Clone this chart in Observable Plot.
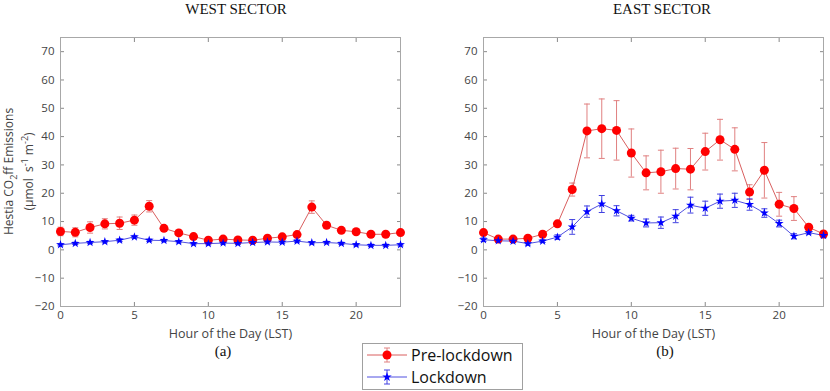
<!DOCTYPE html>
<html><head><meta charset="utf-8">
<script src="https://cdn.jsdelivr.net/npm/d3@7"></script>
<script src="https://cdn.jsdelivr.net/npm/@observablehq/plot@0.6"></script>
<style>
body{margin:0;background:#fff;}
#wrap{position:relative;width:830px;height:391px;overflow:hidden;font-family:"Open Sans",sans-serif;background:#fff}
.serif{position:absolute;font-family:"Liberation Serif",serif;font-size:15px;color:#111;transform:translate(-50%,-50%);white-space:nowrap;z-index:2}
.panel{position:absolute;top:0}
#legend{position:absolute;left:362px;top:343px;z-index:3}
</style>
</head><body>
<div id="wrap">
  <div class="panel" id="west" style="left:0px"></div>
  <div class="panel" id="east" style="left:420px"></div>
  <div class="serif" style="left:236px;top:9px">WEST SECTOR</div>
  <div class="serif" style="left:662px;top:9px">EAST SECTOR</div>
  <div class="serif" style="left:223px;top:351px">(a)</div>
  <div class="serif" style="left:665px;top:351px">(b)</div>
  <div id="legend"></div>
</div>
<script>
const hours = d3.range(0, 24);
const xTicks = [0, 5, 10, 15, 20];
const yTicks = [-20, -10, 0, 10, 20, 30, 40, 50, 60, 70];
const seriesNames = ["Pre-lockdown", "Lockdown"];

const westPre    = [6.5, 6.2, 7.9, 9.2, 9.4, 10.5, 15.4, 7.6, 6.0, 4.7, 3.4, 3.8, 3.5, 3.4, 4.1, 4.6, 5.4, 15.1, 8.7, 6.9, 6.4, 5.5, 5.5, 6.1];
const westPreErr = [1.5, 1.6, 2.0, 1.8, 2.2, 1.8, 2.0, 0.8, 0.8, 0.8, 0.6, 0.6, 0.6, 0.6, 0.6, 0.6, 0.8, 2.2, 1.0, 0.8, 0.6, 0.6, 0.6, 0.6];
const westLock    = [1.8, 2.3, 2.6, 2.9, 3.4, 4.6, 3.4, 3.3, 2.9, 2.2, 2.2, 2.4, 2.3, 2.6, 2.8, 2.7, 3.1, 2.5, 2.6, 2.3, 1.8, 1.6, 1.6, 1.8];
const westLockErr = [0.4, 0.4, 0.4, 0.4, 0.5, 0.5, 0.4, 0.4, 0.4, 0.4, 0.4, 0.4, 0.4, 0.4, 0.4, 0.4, 0.4, 0.4, 0.4, 0.4, 0.4, 0.4, 0.4, 0.4];

const eastPre    = [6.1, 3.8, 3.8, 4.1, 5.5, 9.2, 21.3, 42.0, 42.8, 42.2, 34.2, 27.2, 27.6, 28.7, 28.5, 34.7, 38.9, 35.5, 20.4, 28.1, 16.1, 14.6, 8.0, 5.6];
const eastPreErr = [0.6, 0.5, 0.5, 0.6, 0.7, 0.8, 2.3, 9.5, 10.5, 10.5, 8.5, 6.0, 7.6, 7.2, 7.3, 6.5, 7.2, 7.6, 2.6, 9.8, 4.2, 4.2, 0.8, 0.5];
const eastLock    = [3.6, 3.2, 3.1, 2.2, 3.1, 4.5, 8.1, 13.5, 16.2, 13.8, 11.2, 9.5, 9.6, 11.9, 15.8, 14.7, 17.2, 17.5, 16.0, 13.0, 9.3, 4.8, 6.1, 5.1];
const eastLockErr = [0.6, 0.5, 0.5, 0.5, 0.5, 0.8, 2.6, 2.0, 3.0, 1.8, 1.0, 1.4, 2.0, 2.3, 2.8, 2.5, 2.5, 2.5, 2.0, 1.5, 1.2, 0.9, 0.5, 0.8];

const RED = "#ff0000", RED_LINE = "#d95f5f", RED_ERR = "#e08080";
const BLUE = "#0000ff", BLUE_LINE = "#5050e0", BLUE_ERR = "#4040e0";

const capSymbol = {
  draw(ctx, size) {
    const w = Math.sqrt(size / Math.PI);
    ctx.moveTo(-w, 0); ctx.lineTo(w, 0);
  }
};

function panel(pre, preErr, lock, lockErr, width, ml, mr) {
  const rows = hours.map((h, i) => ({h, pre: pre[i], pe: preErr[i], lock: lock[i], le: lockErr[i]}));
  const tickStroke = "#8a8a8a";
  return Plot.plot({
    width, height: 356,
    marginTop: 37, marginBottom: 50, marginLeft: ml, marginRight: mr,
    style: {fontFamily: "Open Sans, sans-serif", fontSize: "11.5px", color: "#444", background: "transparent"},
    x: {domain: [0, 23]},
    y: {domain: [-20, 75]},
    marks: [
      Plot.axisX({anchor: "bottom", ticks: xTicks, tickSize: -4, tickPadding: 8, stroke: tickStroke, label: null}),
      Plot.axisX({anchor: "bottom", ticks: [], tickSize: 0,
        label: "Hour of the Day (LST)", labelAnchor: "center", labelArrow: "none", labelOffset: 31, fontSize: 12.5}),
      Plot.axisX({anchor: "top", ticks: xTicks, tickSize: -4, tickFormat: () => "", label: null, stroke: tickStroke}),
      Plot.axisY({anchor: "left", ticks: yTicks, tickSize: -4, tickPadding: 10, label: null, stroke: tickStroke}),
      Plot.axisY({anchor: "right", ticks: yTicks, tickSize: -4, tickFormat: () => "", label: null, stroke: tickStroke}),
      Plot.frame({stroke: "#a8a8a8"}),
      // pre-lockdown error bars
      Plot.ruleX(rows, {x: "h", y1: d => d.pre - d.pe, y2: d => d.pre + d.pe, stroke: RED_ERR, strokeWidth: 1}),
      Plot.dot(rows, {x: "h", y: d => d.pre + d.pe, symbol: capSymbol, r: 3, stroke: RED_ERR, fill: "none", strokeWidth: 1}),
      Plot.dot(rows, {x: "h", y: d => d.pre - d.pe, symbol: capSymbol, r: 3, stroke: RED_ERR, fill: "none", strokeWidth: 1}),
      Plot.line(rows, {x: "h", y: "pre", stroke: RED_LINE, strokeWidth: 1}),
      // lockdown error bars
      Plot.ruleX(rows, {x: "h", y1: d => d.lock - d.le, y2: d => d.lock + d.le, stroke: BLUE_ERR, strokeWidth: 1}),
      Plot.dot(rows, {x: "h", y: d => d.lock + d.le, symbol: capSymbol, r: 3, stroke: BLUE_ERR, fill: "none", strokeWidth: 1}),
      Plot.dot(rows, {x: "h", y: d => d.lock - d.le, symbol: capSymbol, r: 3, stroke: BLUE_ERR, fill: "none", strokeWidth: 1}),
      Plot.line(rows, {x: "h", y: "lock", stroke: BLUE_LINE, strokeWidth: 1}),
      Plot.dot(rows, {x: "h", y: "pre", r: 4.5, fill: RED, stroke: "none"}),
      Plot.dot(rows, {x: "h", y: "lock", r: 2.8, symbol: "star", fill: BLUE, stroke: "none"})
    ]
  });
}

const west = panel(westPre, westPreErr, westLock, westLockErr, 420, 60, 20);
const east = panel(eastPre, eastPreErr, eastLock, eastLockErr, 410, 63, 7);
document.getElementById("west").append(west);
document.getElementById("east").append(east);

// y-axis label on the west panel
const sv = d3.select(west);
const cy = (37 + 306) / 2;
const t1 = sv.append("text").attr("transform", `translate(13,${cy}) rotate(-90)`)
  .attr("text-anchor", "middle").attr("font-family", "Open Sans, sans-serif").attr("font-size", 12).attr("fill", "#444");
t1.append("tspan").text("Hestia CO");
t1.append("tspan").attr("font-size", 9).attr("dy", 4).text("2");
t1.append("tspan").attr("dy", -4).text("ff Emissions");
const t2 = sv.append("text").attr("transform", `translate(33,${cy}) rotate(-90)`)
  .attr("text-anchor", "middle").attr("font-family", "Open Sans, sans-serif").attr("font-size", 12).attr("fill", "#444");
t2.append("tspan").text("(\u03bcmol  s");
t2.append("tspan").attr("font-size", 9).attr("dy", -5).text("-1");
t2.append("tspan").attr("dy", 5).text(" m");
t2.append("tspan").attr("font-size", 9).attr("dy", -5).text("-2");
t2.append("tspan").attr("dy", 5).text(")");

// legend
const lg = d3.select("#legend").append("svg").attr("width", 161).attr("height", 47);
lg.append("rect").attr("x", 0.5).attr("y", 0.5).attr("width", 160).attr("height", 46).attr("fill", "#fff").attr("stroke", "#a0a0a0");
const items = [
  {name: seriesNames[0], line: RED_LINE, err: RED_ERR, fill: RED, sym: d3.symbolCircle, size: 64, y: 12},
  {name: seriesNames[1], line: BLUE_LINE, err: BLUE_ERR, fill: BLUE, sym: d3.symbolStar, size: 28, y: 34}
];
for (const it of items) {
  lg.append("line").attr("x1", 5).attr("x2", 45).attr("y1", it.y).attr("y2", it.y).attr("stroke", it.line);
  lg.append("line").attr("x1", 25).attr("x2", 25).attr("y1", it.y - 7).attr("y2", it.y + 7).attr("stroke", it.err);
  lg.append("line").attr("x1", 22).attr("x2", 28).attr("y1", it.y - 7).attr("y2", it.y - 7).attr("stroke", it.err);
  lg.append("line").attr("x1", 22).attr("x2", 28).attr("y1", it.y + 7).attr("y2", it.y + 7).attr("stroke", it.err);
  lg.append("path").attr("transform", `translate(25,${it.y})`).attr("d", d3.symbol(it.sym, it.size)()).attr("fill", it.fill);
  lg.append("text").attr("x", 49).attr("y", it.y).attr("dy", "0.35em").attr("font-family", "Open Sans, sans-serif")
    .attr("font-size", 16).attr("fill", "#111").text(it.name);
}
</script>
</body></html>
